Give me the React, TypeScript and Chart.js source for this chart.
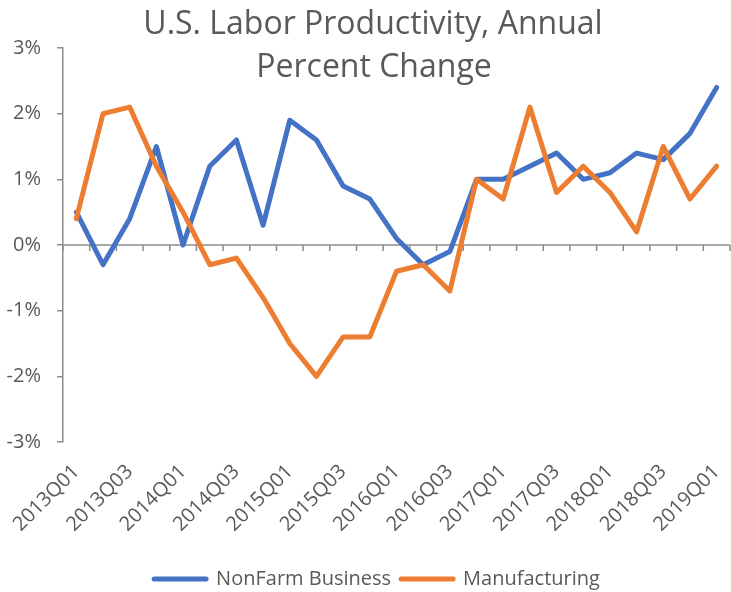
import React, { useEffect, useRef } from "react";
import { Chart, registerables } from "chart.js";

Chart.register(...registerables);

const quarters = [
  "2013Q01", "2013Q02", "2013Q03", "2013Q04",
  "2014Q01", "2014Q02", "2014Q03", "2014Q04",
  "2015Q01", "2015Q02", "2015Q03", "2015Q04",
  "2016Q01", "2016Q02", "2016Q03", "2016Q04",
  "2017Q01", "2017Q02", "2017Q03", "2017Q04",
  "2018Q01", "2018Q02", "2018Q03", "2018Q04",
  "2019Q01",
];

const nonFarmBusiness = [
  0.5, -0.3, 0.4, 1.5,
  0.0, 1.2, 1.6, 0.3,
  1.9, 1.6, 0.9, 0.7,
  0.1, -0.3, -0.1, 1.0,
  1.0, 1.2, 1.4, 1.0,
  1.1, 1.4, 1.3, 1.7,
  2.4,
];

const manufacturing = [
  0.4, 2.0, 2.1, 1.2,
  0.5, -0.3, -0.2, -0.8,
  -1.5, -2.0, -1.4, -1.4,
  -0.4, -0.3, -0.7, 1.0,
  0.7, 2.1, 0.8, 1.2,
  0.8, 0.2, 1.5, 0.7,
  1.2,
];

const titleLines = ["U.S. Labor Productivity, Annual", "Percent Change"];
const yTicks = [-3, -2, -1, 0, 1, 2, 3];

const FONT = "'Open Sans', 'Noto Sans', sans-serif";
const TEXT = "#595959";
const AXIS = "#8c8c8c";
const BLUE = "#4472C4";
const ORANGE = "#ED7D31";

const titlePlugin = {
  id: "customTitle",
  afterDraw(chart: any) {
    const ctx = chart.ctx;
    ctx.save();
    ctx.fillStyle = TEXT;
    ctx.font = `32px ${FONT}`;
    ctx.textAlign = "center";
    ctx.textBaseline = "alphabetic";
    ctx.fillText(titleLines[0], 373, 34);
    ctx.fillText(titleLines[1], 374, 77);
    ctx.restore();
  },
};

const legendShiftPlugin = {
  id: "legendShift",
  afterLayout(chart: any) {
    if (chart.legend) {
      chart.legend.left += 12;
      chart.legend.right += 12;
    }
  },
};

const zeroAxisPlugin = {
  id: "zeroAxis",
  beforeDatasetsDraw(chart: any) {
    const ctx = chart.ctx;
    const x = chart.scales.x;
    const y = chart.scales.y;
    const y0 = y.getPixelForValue(0);
    const n = quarters.length;
    const step = (x.right - x.left) / n;
    ctx.save();
    ctx.strokeStyle = AXIS;
    ctx.lineWidth = 1.5;
    ctx.beginPath();
    ctx.moveTo(x.left, y0);
    ctx.lineTo(x.right, y0);
    for (let i = 0; i <= n; i++) {
      const px = x.left + i * step;
      ctx.moveTo(px, y0);
      ctx.lineTo(px, y0 + 6);
    }
    ctx.stroke();
    ctx.restore();
  },
};

export default function App() {
  const ref = useRef<HTMLCanvasElement | null>(null);

  useEffect(() => {
    if (!ref.current) return;
    const chart = new Chart(ref.current, {
      type: "line",
      data: {
        labels: quarters,
        datasets: [
          {
            label: "NonFarm Business",
            data: nonFarmBusiness,
            borderColor: BLUE,
            backgroundColor: BLUE,
            borderWidth: 5,
            pointRadius: 0,
            tension: 0,
            fill: false,
            borderCapStyle: "round",
            borderJoinStyle: "round",
            order: 1,
          },
          {
            label: "Manufacturing",
            data: manufacturing,
            borderColor: ORANGE,
            backgroundColor: ORANGE,
            borderWidth: 5,
            pointRadius: 0,
            tension: 0,
            fill: false,
            borderCapStyle: "round",
            borderJoinStyle: "round",
            order: 0,
          },
        ],
      },
      options: {
        animation: false,
        responsive: false,
        maintainAspectRatio: false,
        layout: { padding: { top: 48, right: 1, left: 0, bottom: -7 } },
        plugins: {
          title: { display: false },
          tooltip: { enabled: false },
          legend: {
            position: "bottom",
            labels: {
              color: TEXT,
              font: { family: FONT, size: 20 },
              usePointStyle: true,
              pointStyleWidth: 52,
              boxHeight: 20,
              padding: 10,
              generateLabels: (c: any) =>
                c.data.datasets.map((ds: any, i: number) => ({
                  text: ds.label,
                  fillStyle: ds.borderColor,
                  strokeStyle: ds.borderColor,
                  lineWidth: 5,
                  lineCap: "round",
                  pointStyle: "line",
                  hidden: false,
                  datasetIndex: i,
                  fontColor: TEXT,
                })),
            },
          },
        },
        scales: {
          x: {
            type: "category",
            offset: true,
            grid: { display: false },
            border: { display: false },
            afterFit: (s: any) => {
              s.height = 117;
              s.paddingRight = 0;
              s.paddingLeft = 0;
            },
            ticks: {
              autoSkip: false,
              minRotation: 45,
              maxRotation: 45,
              color: TEXT,
              font: { family: FONT, size: 20 },
              padding: 10,
              callback: (_v: any, i: number) => (i % 2 === 0 ? quarters[i] : ""),
            },
          },
          y: {
            min: -3,
            max: 3,
            afterFit: (s: any) => {
              s.width = 63;
            },
            afterBuildTicks: (s: any) => {
              s.ticks = yTicks.map((v) => ({ value: v }));
            },
            border: { display: true, color: AXIS, width: 1.5 },
            grid: {
              drawOnChartArea: false,
              drawTicks: true,
              tickLength: 6,
              color: AXIS,
              lineWidth: 1.5,
            },
            ticks: {
              color: TEXT,
              font: { family: FONT, size: 20 },
              padding: 16,
              callback: (v: any) => `${v}%`,
            },
          },
        },
      },
      plugins: [titlePlugin, zeroAxisPlugin, legendShiftPlugin],
    });
    return () => chart.destroy();
  }, []);

  return (
    <div style={{ position: "fixed", left: 0, top: 0, width: 731, height: 592, background: "#fff" }}>
      <canvas ref={ref} width={731} height={592} style={{ width: 731, height: 592 }} />
    </div>
  );
}
